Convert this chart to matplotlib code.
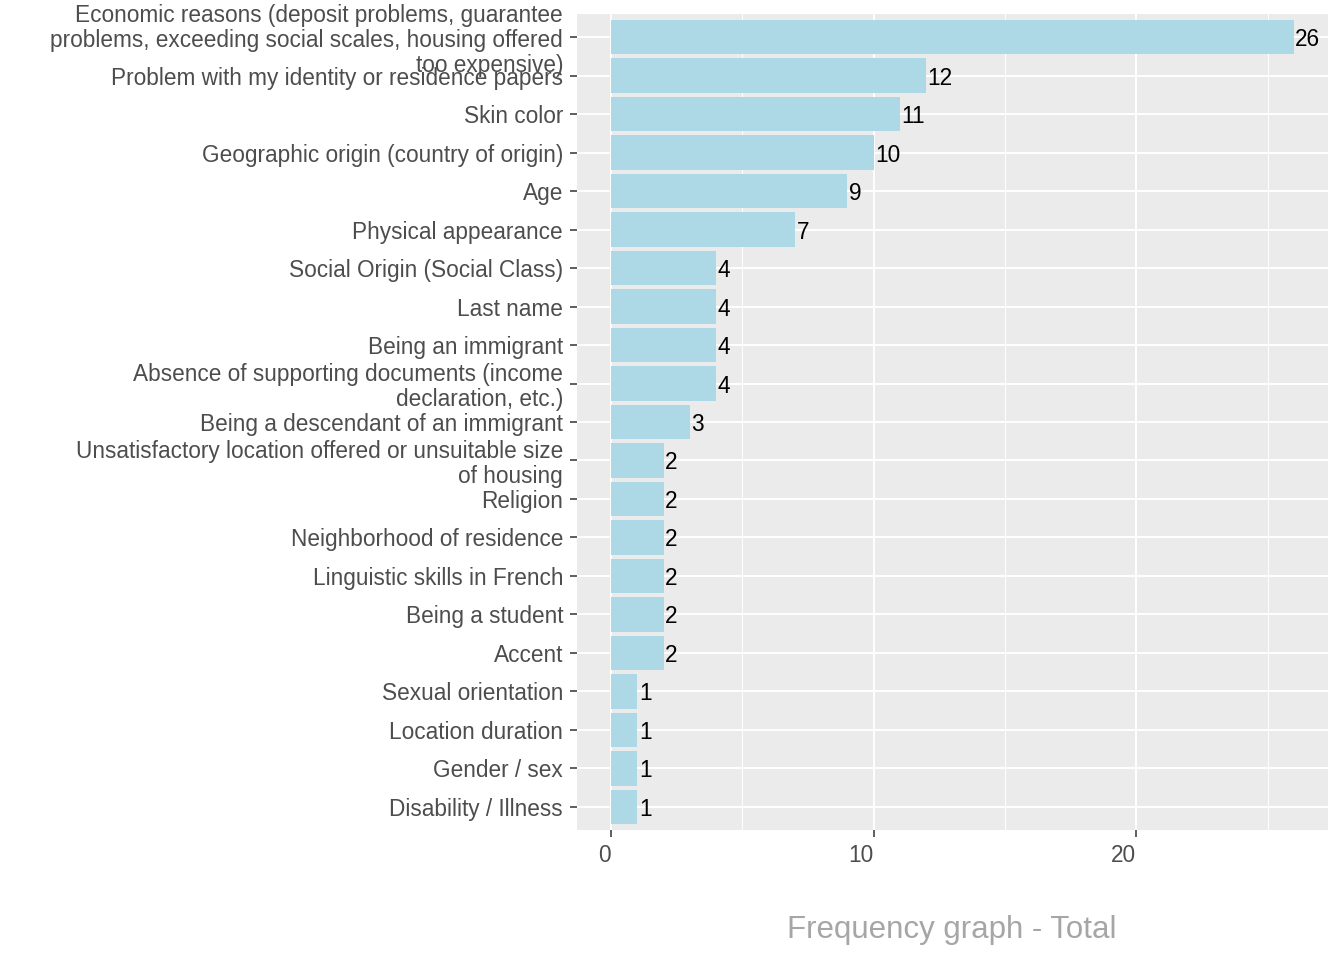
import matplotlib
matplotlib.use("Agg")
import matplotlib.pyplot as plt
from matplotlib.ticker import MultipleLocator
from matplotlib.transforms import offset_copy

plt.rcParams["font.family"] = ["Liberation Sans", "DejaVu Sans"]

# categories top -> bottom, with their counts
reasons = [
    "Economic reasons (deposit problems, guarantee\nproblems, exceeding social scales, housing offered\ntoo expensive)",
    "Problem with my identity or residence papers",
    "Skin color",
    "Geographic origin (country of origin)",
    "Age",
    "Physical appearance",
    "Social Origin (Social Class)",
    "Last name",
    "Being an immigrant",
    "Absence of supporting documents (income\ndeclaration, etc.)",
    "Being a descendant of an immigrant",
    "Unsatisfactory location offered or unsuitable size\nof housing",
    "Religion",
    "Neighborhood of residence",
    "Linguistic skills in French",
    "Being a student",
    "Accent",
    "Sexual orientation",
    "Location duration",
    "Gender / sex",
    "Disability / Illness",
]
counts = [26, 12, 11, 10, 9, 7, 4, 4, 4, 4, 3, 2, 2, 2, 2, 2, 2, 1, 1, 1, 1]

BAR = "#ADD8E6"
PANEL = "#EBEBEB"
TXT = "#4D4D4D"

fig = plt.figure(figsize=(13.44, 9.6), dpi=100)
ax = fig.add_axes([577 / 1344, 1 - 830 / 960, (1328 - 577) / 1344, (830 - 14) / 960])
ax.set_facecolor(PANEL)

n = len(reasons)
ypos = list(range(n - 1, -1, -1))   # first category on top
ax.barh(ypos, counts, height=0.9, color=BAR, zorder=3)
lab_tr = offset_copy(ax.transData, fig=fig, x=1.5, y=-2.5, units="dots")
for y, v in zip(ypos, counts):
    ax.text(v, y, str(v), ha="left", va="center", fontsize=16.3, color="black",
            zorder=4, transform=lab_tr)

# ggplot-like expansion
xmax = max(counts)
ax.set_xlim(-0.05 * xmax, xmax * 1.05)
ax.set_ylim(-0.6, n - 1 + 0.6)

ax.xaxis.set_major_locator(MultipleLocator(10))
ax.xaxis.set_minor_locator(MultipleLocator(5))
ax.set_yticks(ypos)
ax.set_yticklabels(reasons, fontsize=16.3, color=TXT, linespacing=1.12)
for lab in ax.get_xticklabels():
    lab.set_fontsize(16.3)
    lab.set_color(TXT)
    lab.set_ha("right")

ax.grid(which="major", color="white", linewidth=1.4, zorder=1)
ax.grid(which="minor", axis="x", color="white", linewidth=0.7, zorder=1)
ax.tick_params(which="major", length=5, width=1.1, color="#333333", pad=5)
ax.tick_params(which="minor", length=0)
ax.tick_params(axis="x", labelsize=16.3, labelcolor=TXT)
for s in ax.spines.values():
    s.set_visible(False)

fig.text(952 / 1344, 1 - 930 / 960, "Frequency graph - Total",
         ha="center", va="center", fontsize=22.5, color="#A6A6A6")

fig.savefig("out.png", dpi=100, facecolor="white")
